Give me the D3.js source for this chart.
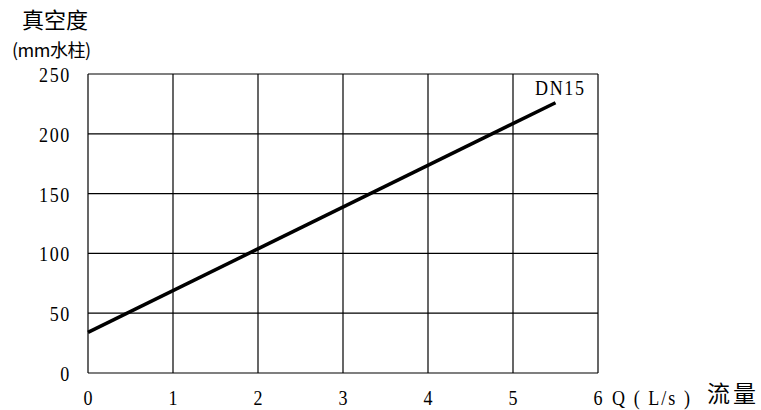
<!DOCTYPE html>
<html><head><meta charset="utf-8">
<script src="https://cdn.jsdelivr.net/npm/d3@7"></script>
<style>body{margin:0;background:#fff}svg text{font-family:"Liberation Serif",serif;fill:#000}</style>
</head><body>
<svg id="c" width="761" height="410"></svg>
<script>
const xTicks = [0,1,2,3,4,5,6];
const yTicks = [0,50,100,150,200,250];
const seriesName = "DN15";
const seriesX = [0, 5.5];
const seriesY = [34, 226];

const svg = d3.select("#c");
const x = d3.scaleLinear().domain([0,6]).range([88,598]);
const y = d3.scaleLinear().domain([0,250]).range([373,74]);

const g = svg.append("g");
g.selectAll(".vx").data(xTicks).enter().append("line")
  .attr("x1",d=>x(d)).attr("x2",d=>x(d)).attr("y1",y(0)).attr("y2",y(250))
  .attr("stroke","#000").attr("stroke-width",1.2);
g.selectAll(".hy").data(yTicks).enter().append("line")
  .attr("x1",x(0)).attr("x2",x(6)).attr("y1",d=>y(d)).attr("y2",d=>y(d))
  .attr("stroke","#000").attr("stroke-width",1.2);

g.selectAll(".yl").data(yTicks).enter().append("text")
  .attr("text-anchor","end").attr("font-size",22)
  .attr("transform",d=>`translate(71,${y(d)+8}) scale(0.82,1)`)
  .style("letter-spacing","2px")
  .text(d=>d);
g.selectAll(".xl").data(xTicks).enter().append("text")
  .attr("text-anchor","middle").attr("font-size",22)
  .attr("transform",d=>`translate(${x(d)},405) scale(0.82,1)`)
  .text(d=>d);

svg.append("text").attr("font-size",22)
  .attr("transform","translate(612,405) scale(0.82,1)")
  .style("letter-spacing","2.5px").text("Q ( L/s )");
svg.append("text").attr("x",707).attr("y",402).attr("font-size",23)
  .style("font-family","'Noto Sans CJK SC',serif").style("letter-spacing","3px").text("流量");

svg.append("text").attr("x",22).attr("y",28).attr("font-size",22)
  .style("font-family","'Noto Sans CJK SC',serif").text("真空度");
svg.append("text").attr("x",12).attr("y",57).attr("font-size",18)
  .style("font-family","'Noto Sans CJK SC',serif").style("letter-spacing","-0.5px").text("(mm水柱)");

const pts = seriesX.map((v,i)=>[v,seriesY[i]]);
svg.append("path").datum(pts)
  .attr("d", d3.line().x(d=>x(d[0])).y(d=>y(d[1])))
  .attr("fill","none").attr("stroke","#000").attr("stroke-width",3.5);

svg.append("text").attr("font-size",22)
  .attr("transform","translate(535,95) scale(0.82,1)")
  .style("letter-spacing","2px").text(seriesName);
</script>
</body></html>
